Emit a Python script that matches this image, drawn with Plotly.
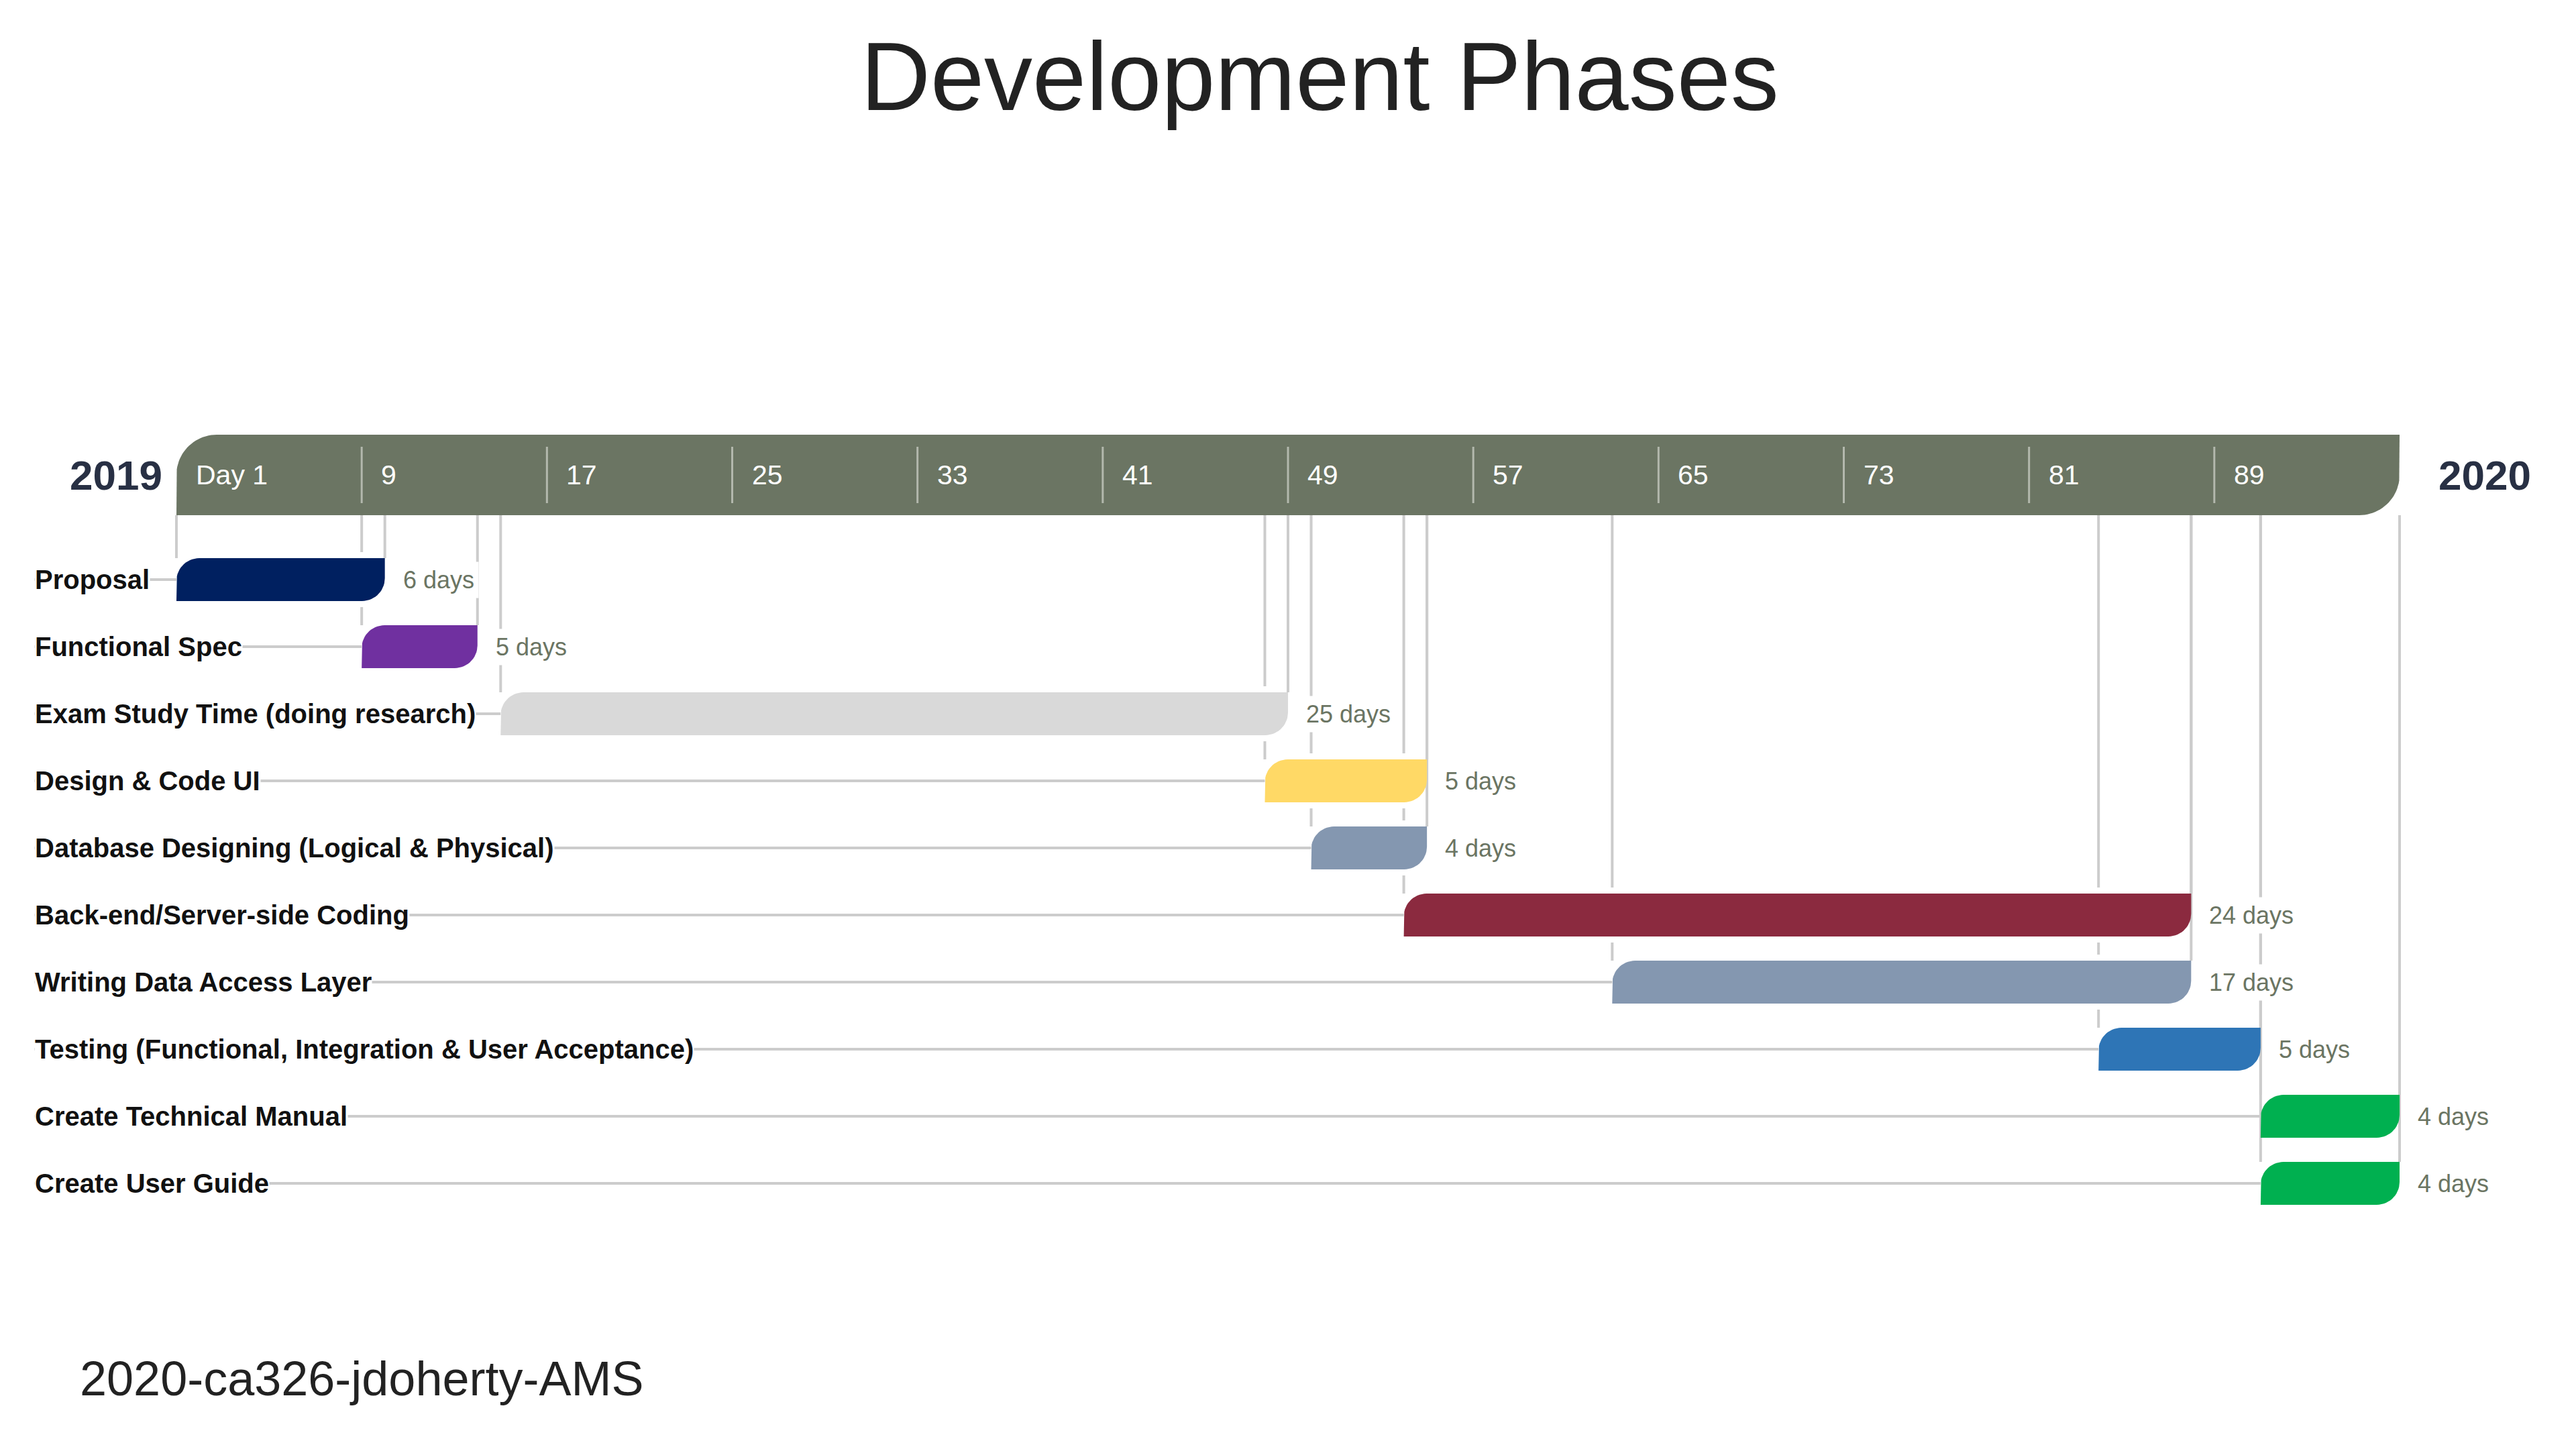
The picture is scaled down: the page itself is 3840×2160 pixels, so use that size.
import numpy as np
import plotly.graph_objects as go

# ---------------- data ----------------
tasks = [
    "Proposal",
    "Functional Spec",
    "Exam Study Time (doing research)",
    "Design & Code UI",
    "Database Designing (Logical & Physical)",
    "Back-end/Server-side Coding",
    "Writing Data Access Layer",
    "Testing (Functional, Integration & User Acceptance)",
    "Create Technical Manual",
    "Create User Guide",
]
start_day = [1, 9, 15, 48, 50, 54, 63, 84, 91, 91]
end_day = [10, 14, 49, 55, 55, 88, 88, 91, 97, 97]
duration_labels = ["6 days", "5 days", "25 days", "5 days", "4 days",
                   "24 days", "17 days", "5 days", "4 days", "4 days"]
bar_colors = ["#002060", "#7030A0", "#D9D9D9", "#FFD966", "#8497B0",
              "#8B2A3F", "#8497B0", "#2E75B6", "#00B050", "#00B050"]
tick_days = [1, 9, 17, 25, 33, 41, 49, 57, 65, 73, 81, 89]
tick_labels = ["Day 1", "9", "17", "25", "33", "41", "49", "57", "65", "73", "81", "89"]
axis_start, axis_end = 1, 97
year_left, year_right = "2019", "2020"
title_text = "Development Phases"
footer_text = "2020-ca326-jdoherty-AMS"

# ---------------- layout geometry ----------------
W, H = 3840, 2160
PX_LEFT, PX_RIGHT = 263, 3577          # pixel positions of axis_start / axis_end
PX_PER_DAY = (PX_RIGHT - PX_LEFT) / (axis_end - axis_start)
ROW0_PX, ROW_PX = 864, 100             # first row centre, row spacing
x_range = [axis_start - PX_LEFT / PX_PER_DAY, axis_end + (W - PX_RIGHT) / PX_PER_DAY]
y_range = [(H - ROW0_PX) / ROW_PX, -ROW0_PX / ROW_PX]   # reversed

BAR_HALF = 0.32
BAND_C, BAND_HALF = -1.56, 0.60
BAND_BOTTOM = BAND_C + BAND_HALF
LINE_COL = "#CCCCCC"
BAND_COL = "#6B7563"
FONT = "Liberation Sans, Arial, sans-serif"


def leaf_shape(x0, x1, yc, half, r_px, n=16):
    """Rectangle with rounded top-left and bottom-right corners (data coords)."""
    rx = r_px / PX_PER_DAY
    ry = r_px / ROW_PX
    top, bot = yc - half, yc + half
    t = np.linspace(0, np.pi / 2, n)
    xs = [x0]
    ys = [bot]
    cx, cy = x0 + rx, top + ry
    xs += list(cx - rx * np.cos(t))
    ys += list(cy - ry * np.sin(t))
    xs.append(x1)
    ys.append(top)
    cx, cy = x1 - rx, bot - ry
    xs += list(cx + rx * np.cos(t))
    ys += list(cy + ry * np.sin(t))
    xs.append(x0)
    ys.append(bot)
    return xs, ys


fig = go.Figure()
shapes = []
annotations = []

# connector lines (drawn below everything)
label_x = axis_start - (PX_LEFT - 51) / PX_PER_DAY
for i, (s, e) in enumerate(zip(start_day, end_day)):
    top = i - BAR_HALF
    for xv in (s, e):
        shapes.append(dict(type="line", xref="x", yref="y", x0=xv, x1=xv,
                           y0=BAND_BOTTOM, y1=top, layer="below",
                           line=dict(color=LINE_COL, width=4)))
    shapes.append(dict(type="line", xref="x", yref="y", x0=label_x, x1=s,
                       y0=i, y1=i, layer="below",
                       line=dict(color=LINE_COL, width=4)))

# white underlays to break lines that pass behind bars
inset = 3 / PX_PER_DAY
for i, (s, e) in enumerate(zip(start_day, end_day)):
    shapes.append(dict(type="rect", xref="x", yref="y", x0=s + inset, x1=e - inset,
                       y0=i - 0.41, y1=i + 0.41, layer="below",
                       fillcolor="white", line=dict(width=0)))

# header band
bx, by = leaf_shape(axis_start, axis_end, BAND_C, BAND_HALF, 60, n=24)
fig.add_trace(go.Scatter(x=bx, y=by, mode="lines", fill="toself", fillcolor=BAND_COL,
                         line=dict(width=0, color=BAND_COL), hoverinfo="skip",
                         showlegend=False))

# task bars
for i, (s, e, c, name) in enumerate(zip(start_day, end_day, bar_colors, tasks)):
    xs, ys = leaf_shape(s, e, i, BAR_HALF, 34)
    fig.add_trace(go.Scatter(x=xs, y=ys, mode="lines", fill="toself", fillcolor=c,
                             line=dict(width=0, color=c), name=name,
                             hoveron="fills", showlegend=False))

# tick separators inside band
for d in tick_days[1:]:
    shapes.append(dict(type="line", xref="x", yref="y", x0=d, x1=d,
                       y0=BAND_C - 0.42, y1=BAND_C + 0.42, layer="above",
                       line=dict(color="#B3B8AD", width=3)))

# tick labels
for d, lab in zip(tick_days, tick_labels):
    annotations.append(dict(x=d, y=BAND_C, xref="x", yref="y", text=lab,
                            showarrow=False, xanchor="left", yanchor="middle",
                            xshift=27, font=dict(family=FONT, size=41, color="white")))

# years
annotations.append(dict(x=axis_start, y=BAND_C, xref="x", yref="y", text=f"<b>{year_left}</b>",
                        showarrow=False, xanchor="right", yanchor="middle", xshift=-19,
                        font=dict(family=FONT, size=62, color="#283044")))
annotations.append(dict(x=axis_end, y=BAND_C, xref="x", yref="y", text=f"<b>{year_right}</b>",
                        showarrow=False, xanchor="left", yanchor="middle", xshift=56,
                        font=dict(family=FONT, size=62, color="#283044")))

# row labels
for i, name in enumerate(tasks):
    annotations.append(dict(x=label_x, y=i, xref="x", yref="y", text=f"<b>{name}</b>",
                            showarrow=False, xanchor="left", yanchor="middle",
                            bgcolor="white", borderpad=0,
                            font=dict(family=FONT, size=40, color="#111111")))

# duration labels
for i, (e, lab) in enumerate(zip(end_day, duration_labels)):
    annotations.append(dict(x=e, y=i, xref="x", yref="y", text=lab,
                            showarrow=False, xanchor="left", yanchor="middle",
                            xshift=20, bgcolor="white", borderpad=6,
                            font=dict(family=FONT, size=36, color="#6B7563")))

# title and footer
annotations.append(dict(x=1968 / W, y=1 - 115 / H, xref="paper", yref="paper", text=title_text,
                        showarrow=False, xanchor="center", yanchor="middle",
                        font=dict(family=FONT, size=144, color="#222222")))
annotations.append(dict(x=117 / W, y=1 - 2055 / H, xref="paper", yref="paper", text=footer_text,
                        showarrow=False, xanchor="left", yanchor="middle",
                        font=dict(family=FONT, size=72, color="#222222")))

fig.update_layout(
    width=W, height=H,
    margin=dict(l=0, r=0, t=0, b=0, pad=0),
    paper_bgcolor="white", plot_bgcolor="white",
    xaxis=dict(range=x_range, visible=False, fixedrange=True),
    yaxis=dict(range=y_range, visible=False, fixedrange=True),
    shapes=shapes, annotations=annotations,
    showlegend=False,
)

fig.write_html("out.html")
